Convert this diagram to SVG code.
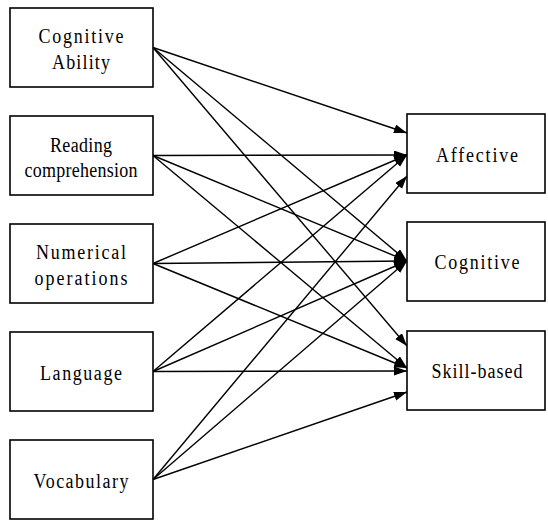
<svg xmlns="http://www.w3.org/2000/svg" width="548" height="520" viewBox="0 0 548 520">
<style>
.box{fill:#fff;stroke:#000;stroke-width:1.6}
.lbl{font-family:"Liberation Serif","Times New Roman",serif;font-size:18px;fill:#000;text-anchor:middle}
.c line{stroke:#000;stroke-width:1.4;marker-end:url(#ah)}
</style>
<defs>
<marker id="ah" markerUnits="userSpaceOnUse" markerWidth="14" markerHeight="10" refX="13" refY="4.5" orient="auto">
<path d="M0,0 L13,4.5 L0,9 z" fill="#000"/>
</marker>
</defs>
<rect width="548" height="520" fill="#fff"/>
<g id="connectors" class="c">
<line x1="153" y1="47.5" x2="407" y2="133"/>
<line x1="153" y1="47.5" x2="407" y2="261"/>
<line x1="153" y1="47.5" x2="407" y2="346"/>
<line x1="153" y1="155.5" x2="407" y2="155"/>
<line x1="153" y1="155.5" x2="407" y2="261"/>
<line x1="153" y1="155.5" x2="407" y2="368"/>
<line x1="153" y1="263.5" x2="407" y2="155"/>
<line x1="153" y1="263.5" x2="407" y2="261"/>
<line x1="153" y1="263.5" x2="407" y2="368"/>
<line x1="153" y1="371.5" x2="407" y2="155"/>
<line x1="153" y1="371.5" x2="407" y2="261"/>
<line x1="153" y1="371.5" x2="407" y2="371"/>
<line x1="153" y1="479.5" x2="407" y2="176"/>
<line x1="153" y1="479.5" x2="407" y2="261"/>
<line x1="153" y1="479.5" x2="407" y2="392"/>
</g>
<g id="cognitive-ability">
<rect class="box" x="10" y="8" width="143" height="79"/>
<text class="lbl" transform="translate(81,43) scale(1,1.2)" textLength="85" lengthAdjust="spacing">Cognitive</text>
<text class="lbl" transform="translate(81,69) scale(1,1.2)" textLength="58" lengthAdjust="spacing">Ability</text>
</g>
<g id="reading-comprehension">
<rect class="box" x="10" y="116" width="143" height="79"/>
<text class="lbl" transform="translate(81,152) scale(1,1.2)" textLength="62" lengthAdjust="spacing">Reading</text>
<text class="lbl" transform="translate(81,177) scale(1,1.2)" textLength="113" lengthAdjust="spacing">comprehension</text>
</g>
<g id="numerical-operations">
<rect class="box" x="10" y="224" width="143" height="79"/>
<text class="lbl" transform="translate(81,259) scale(1,1.2)" textLength="90" lengthAdjust="spacing">Numerical</text>
<text class="lbl" transform="translate(81,285) scale(1,1.2)" textLength="93" lengthAdjust="spacing">operations</text>
</g>
<g id="language">
<rect class="box" x="10" y="332" width="143" height="79"/>
<text class="lbl" transform="translate(81,380) scale(1,1.2)" textLength="82" lengthAdjust="spacing">Language</text>
</g>
<g id="vocabulary">
<rect class="box" x="10" y="440" width="143" height="79"/>
<text class="lbl" transform="translate(81,488) scale(1,1.2)" textLength="95" lengthAdjust="spacing">Vocabulary</text>
</g>
<g id="affective">
<rect class="box" x="407" y="114" width="138" height="79"/>
<text class="lbl" transform="translate(477,162) scale(1,1.2)" textLength="82" lengthAdjust="spacing">Affective</text>
</g>
<g id="cognitive">
<rect class="box" x="407" y="222" width="138" height="79"/>
<text class="lbl" transform="translate(477,269) scale(1,1.2)" textLength="85" lengthAdjust="spacing">Cognitive</text>
</g>
<g id="skill-based">
<rect class="box" x="407" y="331" width="138" height="79"/>
<text class="lbl" transform="translate(477,378) scale(1,1.2)" textLength="91" lengthAdjust="spacing">Skill-based</text>
</g>
</svg>
